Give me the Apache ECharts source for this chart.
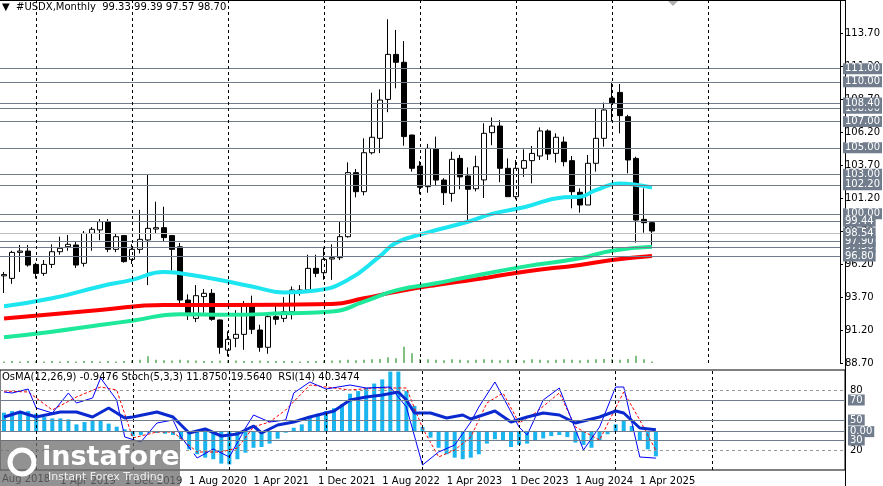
<!DOCTYPE html>
<html>
<head>
<meta charset="utf-8">
<script src="https://cdn.jsdelivr.net/npm/echarts@6/dist/echarts.min.js"></script>
<style>html,body{margin:0;padding:0;background:#fff}#chart{width:883px;height:486px}</style>
</head>
<body>
<div id="chart"></div>
<script>
// months shown: Sep 2018 .. (empty space to the right)
var monthNames = ['Jan','Feb','Mar','Apr','May','Jun','Jul','Aug','Sep','Oct','Nov','Dec'];
var months = [];
for (var k = 0; k < 105; k++) {
    var m = (8 + k) % 12, y = 2018 + Math.floor((8 + k) / 12);
    months.push('1 ' + monthNames[m] + ' ' + y);
}
// January of each year gets a dashed separator
var yearStarts = [4, 16, 28, 40, 52, 64, 76, 88];

// [open, close, low, high]
var candles = [
 [95.3,95.4,94.0,95.6],[95.11,97.08,94.7,97.2],[97.08,97.18,95.6,97.64],[97.18,96.12,96.0,97.64],
 [96.17,95.49,95.1,96.3],[95.49,96.17,95.3,96.5],[96.17,97.13,95.9,97.69],[97.13,97.39,96.9,98.27],
 [97.51,97.69,97.2,98.4],[97.64,96.12,95.9,97.9],[96.25,98.52,96.0,98.7],[98.52,98.83,97.2,99.0],
 [98.78,99.41,98.0,99.6],[99.41,97.31,97.1,99.6],[97.31,98.27,97.1,98.5],[98.35,96.38,96.3,98.4],
 [96.55,97.31,96.2,97.7],[97.31,98.07,97.0,100.3],[98.02,98.9,94.6,102.94],[98.85,98.95,98.5,100.92],
 [98.95,98.2,97.9,100.54],[98.35,97.31,95.7,98.4],[97.5,93.47,93.2,97.8],[93.47,92.33,91.96,93.9],
 [92.08,93.8,91.8,94.6],[93.73,93.98,92.5,94.3],[93.98,92.01,91.9,94.3],[91.96,89.89,89.4,92.0],
 [89.68,90.49,89.2,91.1],[90.57,90.87,89.9,92.7],[90.87,93.09,89.7,93.4],[93.09,91.25,90.9,93.8],
 [91.2,89.89,89.55,91.6],[89.89,92.21,89.4,92.5],[92.21,92.01,91.6,93.17],[92.08,92.59,91.8,93.7],
 [92.59,94.23,92.0,94.5],[94.03,94.23,93.8,94.6],[94.23,95.87,94.0,96.9],[95.87,95.49,95.2,96.9],
 [95.54,96.55,95.0,97.5],[96.58,96.68,95.0,97.69],[96.68,98.27,96.5,99.41],[98.27,103.12,98.2,103.9],
 [103.12,101.68,101.25,103.4],[101.68,104.63,101.4,105.72],[104.63,105.8,104.5,109.18],[105.72,108.62,104.6,109.43],
 [108.67,112.08,107.7,114.74],[112.08,111.48,109.51,113.93],[111.48,105.85,105.16,113.09],[105.97,103.45,103.2,106.0],
 [103.62,102.01,101.48,104.0],[102.06,104.96,101.6,105.3],[104.89,102.56,102.1,105.85],[102.56,101.6,100.67,102.7],
 [101.55,104.13,100.92,104.71],[104.2,102.8,101.86,104.46],[102.87,101.86,99.48,103.52],[101.9,103.57,101.7,104.4],
 [102.57,106.1,101.2,106.86],[106.15,106.65,105.2,107.3],[106.65,103.45,102.4,107.1],[103.45,101.3,101.3,104.2],
 [101.3,103.45,101.1,104.08],[103.45,104.03,102.8,104.89],[104.03,104.58,102.31,105.14],[104.38,106.28,104.08,106.55],
 [106.28,104.53,104.08,106.4],[104.58,105.8,103.88,106.1],[105.44,103.95,103.6,105.85],[104.03,101.68,100.42,104.38],
 [101.63,100.67,100.09,101.93],[100.67,103.83,100.67,104.46],[103.83,105.72,103.2,108.0],[105.72,107.87,105.09,108.43],
 [108.77,108.4,106.96,110.0],[109.2,107.44,106.1,109.84],[107.36,104.08,103.07,107.5],[104.2,99.53,97.82,104.33],
 [99.58,99.33,98.57,101.93],[99.33,98.70,97.57,99.39]
];

var volumes = [4,5,4,5,5,4,5,4,5,4,5,5,4,5,4,5,6,8,17,8,7,6,8,7,6,5,5,6,7,6,5,5,6,5,5,5,5,4,5,5,6,6,7,8,7,8,9,10,14,12,40,24,10,9,8,7,9,8,7,8,9,8,7,8,8,7,9,8,7,8,9,8,7,8,9,10,9,8,10,18,9,4];

// moving averages [monthIndex, value]
var maCyan = [[0,93.0],[6,93.6],[12,94.5],[16,95.0],[20,95.6],[22,95.5],[26,95.1],[31,94.5],[35,94.05],[39,94.2],[43,95.0],[47,96.8],[49,97.8],[53,98.6],[58,99.4],[61,100.0],[65,100.5],[70,101.25],[72,101.3],[74,101.8],[77,102.3],[79,102.2],[81,102.0]];
var maGreen = [[0,90.65],[6,91.07],[12,91.58],[16,91.9],[22,92.4],[28,92.35],[35,92.46],[41,92.6],[45,93.35],[49,94.2],[54,94.74],[57,95.1],[65,96.0],[72,96.63],[76,97.21],[81,97.51]];
var maRed = [[0,92.08],[12,92.71],[20,93.09],[28,93.09],[41,93.17],[45,93.6],[49,94.1],[54,94.61],[59,95.04],[65,95.62],[72,96.13],[76,96.5],[81,96.81]];

var levels = [108.0, 97.5, 111.0, 110.0, 108.4, 107.0, 105.0, 103.0, 102.2, 100.0, 99.44, 97.9, 96.8];
var lastPrice = 98.54;

// indicator panel
var osma = [0.73,0.79,0.76,0.79,0.69,0.56,0.51,0.51,0.47,0.28,0.37,0.41,0.44,0.31,0.19,0.09,-0.17,-0.13,-0.04,-0.05,
 -0.08,-0.13,-0.29,-0.68,-0.87,-1.0,-1.06,-1.23,-1.26,-1.06,-0.81,-0.62,-0.59,-0.46,-0.27,-0.04,0.15,0.28,0.56,0.69,
 0.79,0.9,1.05,1.46,1.56,1.69,1.85,2.01,2.31,2.31,1.56,0.99,0.18,-0.23,-0.62,-0.87,-1.0,-1.06,-1.0,-0.87,
 -0.46,-0.29,-0.36,-0.59,-0.51,-0.46,-0.36,-0.26,-0.17,-0.13,-0.21,-0.42,-0.51,-0.62,-0.36,-0.1,0.28,0.41,0.22,-0.36,
 -0.68,-0.95];
var rsi = [[0,53],[2,58],[4,53],[7,58],[9,58],[10.5,53],[12.5,62],[14.6,52],[16.4,53],[18.5,58],[20.6,53],[23.1,37],[24.9,41],[27,34],[29.1,36],[30.8,44],[32.3,37],[34,45],[36.1,48],[38.2,53],[41.1,59],[43.2,70],[45.3,73],[47.4,75],[48.8,78],[50.2,70],[51.3,57],[53,57],[55.1,52],[56.5,55],[58.3,51],[60.8,59],[62.9,48],[64.6,53],[67.1,57],[69.2,55],[71.3,47],[73.5,53],[75.6,59],[77,57],[79.1,42],[81,40.35]];
var stochMain = [[0,78],[1,77],[3,81],[4.4,62],[6.2,57],[8,77],[9.4,67],[11.1,72],[12.2,92],[13.6,70],[15.4,33],[17.1,28],[18.5,47],[20.6,50],[22,33],[23.8,12],[26.3,21],[28.4,13],[30.1,42],[31.2,55],[32.6,48],[34.7,50],[36.1,77],[37.9,88],[40.3,81],[43.2,85],[45.3,82],[48.1,83],[50.2,63],[52.2,5],[54.4,18],[55.8,25],[58,48],[59.4,63],[61.3,88],[63.6,43],[65,35],[67.1,70],[69.2,82],[72,20],[74.2,43],[76.3,83],[77.3,83],[79.4,13],[81,11.875]];
var stochSignal = [[0.2,79],[3,78],[5.5,60],[8.7,73],[12.2,83],[14.3,80],[16.4,32],[18.5,38],[21.3,38],[23.8,18],[27,18],[29.1,22],[31.2,43],[33.3,48],[35.4,60],[37.9,85],[40.3,83],[43.2,80],[46,82],[49.5,82],[51.6,42],[53.7,13],[55.8,20],[58,33],[60.1,67],[62.2,77],[64.3,47],[66.4,57],[68.9,77],[71.3,43],[74.2,30],[77,78],[79.1,50],[81,19.564]];

var boxLabel = {show: true, position: 'end', distance: 3, color: '#fff', backgroundColor: '#717d8c',
    padding: [1, 2, 0, 2], fontSize: 10, fontFamily: 'DejaVu Sans'};
var grayLine = {color: '#717d8c', width: 1, type: 'solid'};
var font = 'DejaVu Sans';
var yearLines = yearStarts.map(function (i) {
    return {xAxis: i, lineStyle: {color: '#000', type: [3, 3], width: 1}, label: {show: false}};
});

var myChart = echarts.init(document.getElementById('chart'));
var option = {
    animation: false,
    backgroundColor: '#ffffff',
    textStyle: {fontFamily: font},
    grid: [
        {left: 0, right: 38, top: 0, height: 363},
        {left: 0, right: 38, top: 370, height: 100, show: true, borderColor: '#000', borderWidth: 1}
    ],
    xAxis: [
        {type: 'category', data: months, gridIndex: 0, boundaryGap: true,
         axisLine: {show: false}, axisTick: {show: false}, axisLabel: {show: false}, splitLine: {show: false}},
        {type: 'category', data: months, gridIndex: 1, boundaryGap: true,
         axisLine: {show: false}, axisTick: {show: false},
         axisLabel: {interval: function (i) { return i >= 7 && i <= 79 && (i - 7) % 8 === 0; },
                     align: 'left', margin: 6, color: '#000', fontSize: 10, fontFamily: font},
         splitLine: {show: false}}
    ],
    yAxis: [
        {type: 'value', gridIndex: 0, position: 'right', min: 88.7, max: 116.2, interval: 2.5,
         axisLine: {show: true, lineStyle: {color: '#000'}}, axisTick: {show: true, length: 3},
         axisLabel: {showMaxLabel: false, color: '#000', fontSize: 10, fontFamily: font, margin: 5,
                     formatter: function (v) { return v.toFixed(2); }},
         splitLine: {show: false}},
        {type: 'value', gridIndex: 0, min: 0, max: 900, show: false},
        {type: 'value', gridIndex: 1, position: 'right', min: -1.475, max: 2.371, show: false},
        {type: 'value', gridIndex: 1, position: 'right', min: 0, max: 100, show: false}
    ],
    graphic: [
        {type: 'line', shape: {x1: 0, y1: 0.5, x2: 845, y2: 0.5}, style: {stroke: '#000', lineWidth: 1}},
        {type: 'line', shape: {x1: 845.5, y1: 0, x2: 845.5, y2: 486}, style: {stroke: '#000', lineWidth: 1}},
        {type: 'polygon', shape: {points: [[668, 1], [678, 1], [673, 6]]}, style: {fill: '#b0b0b0'}},
        {type: 'text', left: 2, top: 2, style: {text: '\u25BC  #USDX,Monthly  99.33 99.39 97.57 98.70', fill: '#000', font: '10px DejaVu Sans'}},
        {type: 'text', left: 2, top: 372, style: {text: 'OsMA(12,26,9) -0.9476 Stoch(5,3,3) 11.8750 19.5640  RSI(14) 40.3474', fill: '#000', font: '10px DejaVu Sans'}},
        {type: 'rect', shape: {x: 0, y: 440, width: 180, height: 46}, style: {fill: 'rgba(110,110,110,0.75)'}, z: 100},
        {type: 'circle', shape: {cx: 22, cy: 462, r: 12}, style: {fill: 'none', stroke: '#fff', lineWidth: 5}, z: 101},
        {type: 'text', left: 42, top: 444, z: 101, style: {text: 'instaforex', fill: '#fff', font: 'bold 27px DejaVu Sans'}},
        {type: 'text', left: 48, top: 472, z: 101, style: {text: 'Instant Forex Trading', fill: '#eee', font: '11px DejaVu Sans'}},
        {type: 'text', left: 2, top: 474, z: 99, style: {text: 'Aug 2018', fill: '#000', font: '10px DejaVu Sans'}}
    ],
    series: [
        {type: 'bar', xAxisIndex: 0, yAxisIndex: 1, data: volumes, barWidth: 1, itemStyle: {color: '#008000'}, silent: true},
        {type: 'line', xAxisIndex: 0, yAxisIndex: 0, data: maRed, smooth: true, showSymbol: false,
         lineStyle: {color: '#ff0000', width: 4}},
        {type: 'line', xAxisIndex: 0, yAxisIndex: 0, data: maGreen, smooth: true, showSymbol: false,
         lineStyle: {color: '#1ee89a', width: 4}},
        {type: 'line', xAxisIndex: 0, yAxisIndex: 0, data: maCyan, smooth: true, showSymbol: false,
         lineStyle: {color: '#1ee6f0', width: 4}},
        {type: 'candlestick', xAxisIndex: 0, yAxisIndex: 0, data: candles, barWidth: 5,
         itemStyle: {color: '#ffffff', color0: '#000000', borderColor: '#000000', borderColor0: '#000000', borderWidth: 1},
         markLine: {symbol: 'none', silent: true,
            data: levels.map(function (v) { return {yAxis: v, lineStyle: grayLine}; }).concat([
                {yAxis: lastPrice, lineStyle: {color: '#c0c0c0', width: 1, type: 'solid'}}]).concat(yearLines),
            label: Object.assign({}, boxLabel, {formatter: function (p) { return p.value.toFixed(2); }})}},
        {type: 'bar', xAxisIndex: 1, yAxisIndex: 2, data: osma, barWidth: 4, itemStyle: {color: '#1ab4ee'},
         markLine: {symbol: 'none', silent: true, data: [
            {yAxis: 0, lineStyle: grayLine, label: Object.assign({}, boxLabel, {formatter: '0.00'})},
            {yAxis: 2.2175, lineStyle: {opacity: 0}, label: {show: true, position: 'end', distance: 5, color: '#000', fontSize: 10, formatter: '2.2175'}},
            {yAxis: -1.244, lineStyle: {opacity: 0}, label: {show: true, position: 'end', distance: 5, color: '#000', fontSize: 10, formatter: '-1.244'}}
         ].concat(yearLines)}},
        {type: 'line', xAxisIndex: 1, yAxisIndex: 3, data: stochSignal, showSymbol: false,
         lineStyle: {color: '#ff0000', width: 1, type: [3, 2]},
         markLine: {symbol: 'none', silent: true, data: [
            {yAxis: 80, lineStyle: {color: '#999', type: [3, 3], width: 1}, label: {show: true, position: 'end', distance: 5, color: '#000', fontSize: 10, formatter: '80'}},
            {yAxis: 20, lineStyle: {color: '#999', type: [3, 3], width: 1}, label: {show: true, position: 'end', distance: 5, color: '#000', fontSize: 10, formatter: '20'}},
            {yAxis: 70, lineStyle: grayLine, label: Object.assign({}, boxLabel, {formatter: '70'})},
            {yAxis: 50, lineStyle: grayLine, label: Object.assign({}, boxLabel, {formatter: '50'})},
            {yAxis: 30, lineStyle: grayLine, label: Object.assign({}, boxLabel, {formatter: '30'})}
         ]}},
        {type: 'line', xAxisIndex: 1, yAxisIndex: 3, data: stochMain, showSymbol: false,
         lineStyle: {color: '#0000ff', width: 1}},
        {type: 'line', xAxisIndex: 1, yAxisIndex: 3, data: rsi, showSymbol: false,
         lineStyle: {color: '#0a2ad0', width: 3}}
    ]
};
myChart.setOption(option);
</script>
</body>
</html>
